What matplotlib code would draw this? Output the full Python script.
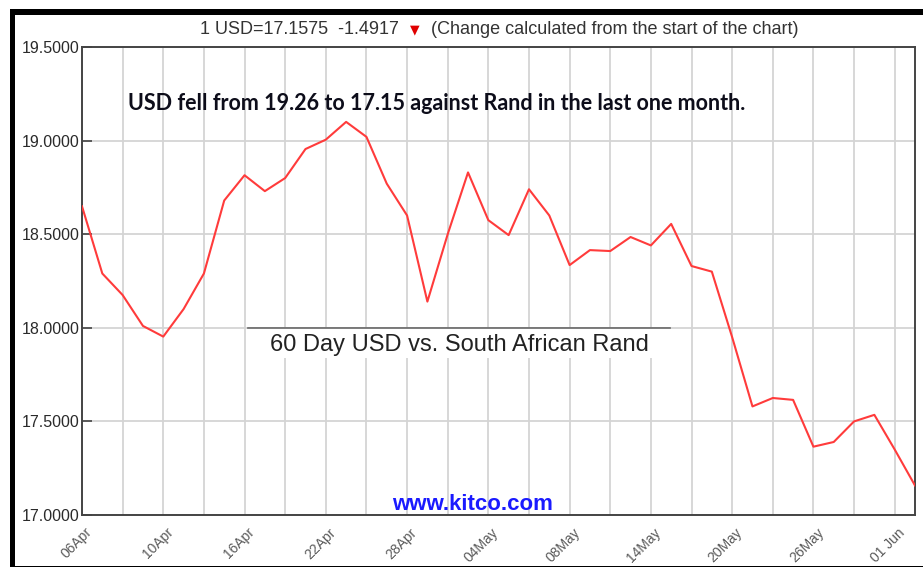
import matplotlib
matplotlib.use('Agg')
from matplotlib import pyplot as plt
from matplotlib.patches import Rectangle
from matplotlib.lines import Line2D
from matplotlib.transforms import ScaledTranslation

W, H = 923, 569

# USD/ZAR closing values, one per trading day
rates = [18.6492, 18.29, 18.175, 18.01, 17.953, 18.10, 18.29, 18.68, 18.815, 18.73,
         18.80, 18.955, 19.005, 19.10, 19.02, 18.77, 18.60, 18.14, 18.50, 18.83,
         18.575, 18.495, 18.74, 18.60, 18.335, 18.415, 18.41, 18.485, 18.44, 18.555,
         18.33, 18.30, 17.95, 17.58, 17.625, 17.615, 17.365, 17.39, 17.50, 17.535,
         17.35, 17.1575]
date_labels = ['06Apr', '10Apr', '16Apr', '22Apr', '28Apr', '04May', '08May',
               '14May', '20May', '26May', '01 Jun']
y_ticks = [17.0, 17.5, 18.0, 18.5, 19.0, 19.5]

header = '1 USD=17.1575  -1.4917'
header_note = '(Change calculated from the start of the chart)'
note = 'USD fell from 19.26 to 17.15 against Rand in the last one month.'
title = '60 Day USD vs. South African Rand'


def fx(px):
	return px / W


def fy(py):
	return 1 - py / H


fig = plt.figure(figsize=(W / 100, H / 100), dpi=100)
fig.patch.set_facecolor('white')
ax = fig.add_axes([fx(82), fy(515), fx(915 - 82), (515 - 47) / H])

x = list(range(len(rates)))
ax.plot(x, rates, color='#ff3b3b', lw=1.5, zorder=3)

ax.set_xlim(0, len(rates) - 1)
ax.set_ylim(17.0, 19.5)

ax.set_yticks(y_ticks)
ax.set_yticklabels(['%.4f' % v for v in y_ticks], fontsize=11.5, color='#2a2a2a',
                   family='Liberation Sans')
xt = list(range(0, len(rates) - 1, 2))
ax.set_xticks(xt)
lab = []
for i in xt:
	lab.append(date_labels[i // 4] if i % 4 == 0 else '')
ax.set_xticklabels(lab, rotation=45, ha='right', va='center', rotation_mode='anchor',
                   fontsize=10, color='#5a5a5a', family='Liberation Sans')
ax.tick_params(axis='y', direction='in', length=7, width=1.2, color='#444444', pad=2)
ax.tick_params(axis='x', direction='in', length=0, pad=11)
shift = ScaledTranslation(8 / 100, 0, fig.dpi_scale_trans)
for t in ax.get_xticklabels():
	t.set_transform(t.get_transform() + shift)

ax.grid(True, color='#d4d4d4', lw=1.3, zorder=0)
ax.set_axisbelow(True)
for s in ax.spines.values():
	s.set_color('#444444')
	s.set_linewidth(1.4)

# title box that sits over the grid
ax.add_artist(Rectangle((fx(248), fy(358)), fx(670 - 248), (358 - 328) / H,
                        transform=fig.transFigure, facecolor='white', edgecolor='none', zorder=2))
ax.add_artist(Line2D([fx(248), fx(670)], [fy(328), fy(328)], transform=fig.transFigure,
                     color='#666666', lw=1.2, zorder=2))
fig.text(fx(459), fy(345), title, ha='center', va='center', fontsize=17,
         family='Liberation Sans', color='#222222', zorder=4)

fig.text(fx(437), fy(103), note, ha='center', va='center', fontsize=15.5,
         family='Lato', weight='bold', color='#0d0d1a')
fig.text(fx(472), fy(505), 'www.kitco.com', ha='center', va='center', fontsize=16,
         family='Liberation Sans', weight='bold', color='#1a1aff')

fig.text(fx(399), fy(29), header, ha='right', va='center', fontsize=13,
         family='Liberation Sans', color='#333333')
fig.text(fx(415), fy(30), '\u25bc', ha='center', va='center', fontsize=9,
         family='DejaVu Sans', color='#e00000')
fig.text(fx(431), fy(29), header_note, ha='left', va='center', fontsize=13,
         family='Liberation Sans', color='#333333')

# black screenshot frame
fig.patches.append(Rectangle((fx(10), fy(15)), 1 - fx(10), 6 / H, transform=fig.transFigure,
                             facecolor='black', edgecolor='none'))
fig.patches.append(Rectangle((fx(10), fy(567)), fx(5), (567 - 9) / H, transform=fig.transFigure,
                             facecolor='black', edgecolor='none'))
fig.patches.append(Rectangle((fx(10), fy(567)), 1 - fx(10), 1.5 / H, transform=fig.transFigure,
                             facecolor='black', edgecolor='none'))

fig.savefig('out.png', dpi=100)
